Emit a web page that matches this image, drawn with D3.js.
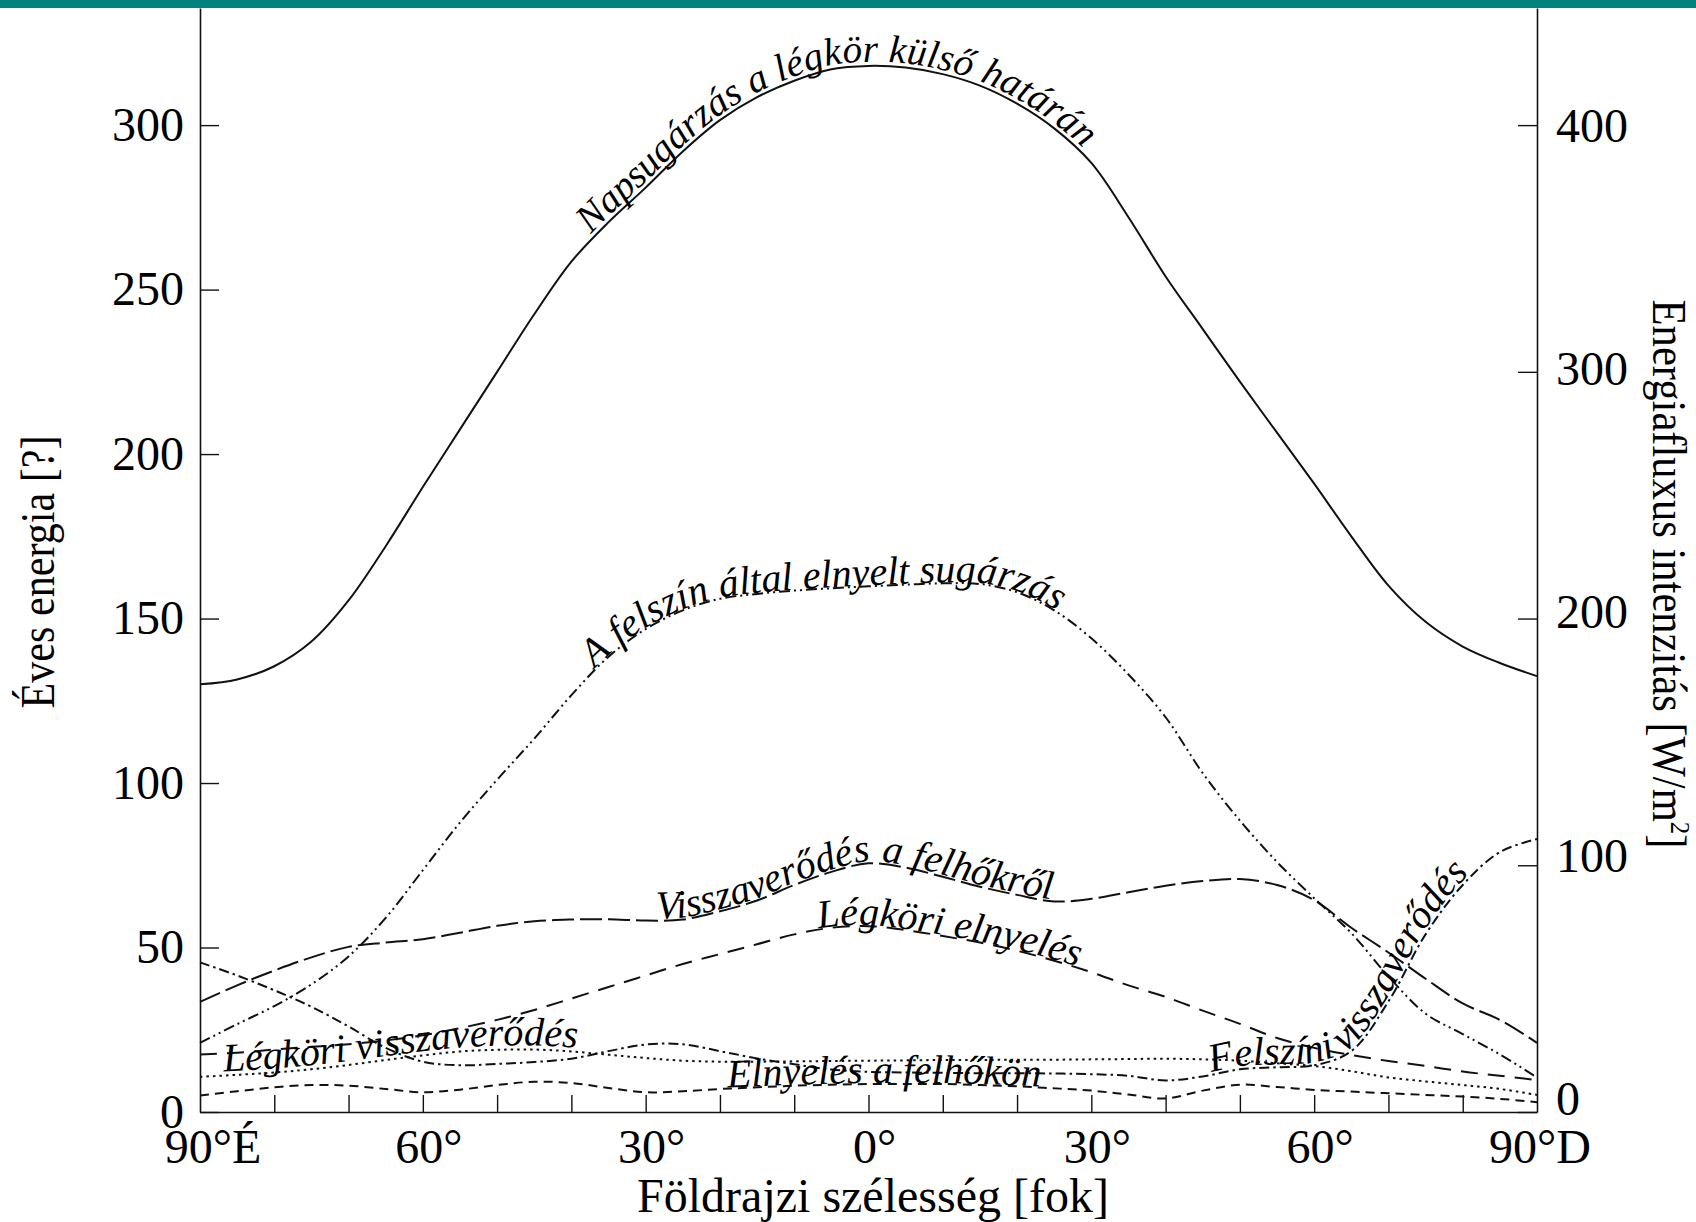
<!DOCTYPE html>
<html>
<head>
<meta charset="utf-8">
<script src="https://cdn.jsdelivr.net/npm/d3@7"></script>
<style>
  html, body { margin: 0; padding: 0; background: #fff; }
  svg { display: block; }
  text { font-family: "Liberation Serif", "Times New Roman", serif; fill: #000; }
</style>
</head>
<body>
<svg id="chart" width="1696" height="1222"></svg>
<script>
// Latitude grid (degrees, north positive) shared by every series
const latitudes = [90, 85, 80, 75, 70, 65, 60, 55, 50, 45, 40, 35, 30, 25, 20, 15, 10, 5, 0,
                   -5, -10, -15, -20, -25, -30, -35, -40, -45, -50, -55, -60, -65, -70, -75, -80, -85, -90];

// Annual energy per latitude band
const napsugarzas = [130, 131.5, 135.5, 143, 155.5, 172, 190, 207.5, 225, 242.5, 258.5, 270.5, 281, 292, 301.5, 308.5, 313.5, 317, 318,
                     317.5, 315.5, 312, 306.5, 299, 288.5, 272, 254, 238, 222, 206.5, 191, 175, 160, 149, 141.5, 136.5, 132.5];
const felszinElnyelt = [21, 26.7, 32.2, 38.8, 47.3, 59, 73.5, 88, 101, 113.5, 126.7, 138.4, 146.8, 152.5, 156, 157.5, 158.5, 159.2, 159.8,
                        160.3, 160.7, 160.5, 158, 152.5, 144, 133, 120, 103, 88.6, 76, 65, 54.4, 41.2, 29.9, 23.7, 17.5, 10.5];
const felhoVisszaverodes = [33.5, 38.5, 43, 47, 50.2, 51.5, 52.5, 54.5, 56.6, 58, 58.5, 58.6, 58.2, 58.5, 61, 64.3, 69, 73, 75.6,
                            74.3, 71.5, 68.5, 66, 64, 64.8, 66.8, 68.8, 70.2, 70.8, 69, 64.4, 56, 48.5, 40.5, 33, 28, 21];
const legkoriElnyeles = [17.5, 18, 19, 19.8, 20.6, 21.8, 23.3, 25.5, 28, 31, 34.5, 38, 41.5, 45, 48, 51, 54, 56, 56.5,
                         55.3, 53.5, 51.5, 49, 46, 42.5, 38.5, 35, 30.8, 26.8, 22.5, 19.5, 17.3, 15.5, 14, 12.3, 11, 9.7];
const legkoriVisszaverodes = [10.7, 11.3, 12, 13, 14.3, 15.8, 17.2, 18.4, 18.9, 19, 18.4, 17.4, 16.4, 15.6, 15.3, 15.3, 15.4, 15.5, 15.6,
                              15.7, 15.8, 15.8, 15.9, 15.9, 16, 16.1, 16.2, 16, 15.6, 14.8, 14, 12.4, 10.5, 9.3, 8.2, 7, 5.2];
const felszinVisszaverodes = [45.5, 41.5, 37, 32, 26, 19.5, 15.3, 14.2, 14.6, 15.2, 16.2, 18.5, 20.5, 20.6, 18.5, 16.3, 14.5, 12.9, 12.2,
                              12, 11.9, 11.8, 11.8, 11.7, 11.5, 11, 9.6, 10.8, 13, 13.6, 14.2, 18.5, 33.6, 54, 69, 79, 83];
const felhoElnyeles = [5, 6.3, 7.5, 8.2, 8, 7, 6, 6.8, 8.2, 9.2, 8.8, 7.3, 6, 6.3, 7, 7.5, 8, 8.3, 8.5,
                       8.5, 8.5, 8.2, 7.8, 7.2, 6.5, 5.3, 4.1, 6.5, 8.3, 7.6, 6.7, 6.2, 5.7, 5.2, 4.7, 4, 3];

// Axis ticks and labels
const leftTicks = [0, 50, 100, 150, 200, 250, 300];
const rightTicks = [0, 100, 200, 300, 400];
const latTicks = [80, 70, 60, 50, 40, 30, 20, 10, 0, -10, -20, -30, -40, -50, -60, -70, -80];
const latLabelValues = [90, 60, 30, 0, -30, -60, -90];
const latLabelTexts = ["90°É", "60°", "30°", "0°", "30°", "60°", "90°D"];

// Series table: data, line style and the label written along each curve
const series = [
  { id: "napsugarzas", values: napsugarzas, dash: null,
    label: "Napsugárzás a légkör külső határán", labelLat: 37, dy: -4, size: 39 },
  { id: "felszin-elnyelt", values: felszinElnyelt, dash: "11 4 2 4 2 4",
    label: "A felszín által elnyelt sugárzás", labelLat: 36.8, dy: -1 },
  { id: "felho-visszaverodes", values: felhoVisszaverodes, dash: "22 6",
    label: "Visszaverődés a felhőkről", labelLat: 28.6, dy: -2 },
  { id: "legkori-elnyeles", values: legkoriElnyeles, dash: "17 10",
    label: "Légköri elnyelés", labelLat: 6.7, dy: -1 },
  { id: "legkori-visszaverodes", values: legkoriVisszaverodes, dash: "2.5 4",
    label: "Légköri visszaverődés", labelLat: 86.8, dy: -4 },
  { id: "felszin-visszaverodes", values: felszinVisszaverodes, dash: "10 4 2.5 4",
    label: "Felszíni visszaverődés", labelLat: -46.2, dy: -3 },
  { id: "felho-elnyeles", values: felhoElnyeles, dash: "9 6",
    label: "Elnyelés a felhőkön", labelLat: 19, dy: -1 }
];

// ---- layout ----
const plot = { left: 200, right: 1537, top: 8, bottom: 1112 };
const energyMax = 335.6;              // value at the top of the left axis
const fluxPerEnergy = 4 / 3;          // right axis: W/m² per unit of annual energy

const svg = d3.select("#chart");

svg.append("rect").attr("x", 0).attr("y", 0).attr("width", 1696).attr("height", 8)
   .attr("fill", "#03817f");

const x = d3.scaleLinear().domain([90, -90]).range([plot.left, plot.right]);
const y = d3.scaleLinear().domain([0, energyMax]).range([plot.bottom, plot.top]);
const y2 = d3.scaleLinear().domain([0, energyMax * fluxPerEnergy]).range([plot.bottom, plot.top]);
// right-hand tick labels sit on a slightly tighter spacing than their ticks
const rightLabelY = d3.scaleLinear().domain([0, 400]).range([1099, 126]);

function styleAxis(g) {
  g.attr("font-family", null).attr("font-size", null);
  g.select(".domain").attr("stroke", "#111").attr("stroke-width", 1.6);
  g.selectAll(".tick line").attr("stroke", "#111").attr("stroke-width", 1.4);
  g.selectAll(".tick text").attr("font-size", 48).attr("fill", "#000");
}

// left axis
svg.append("g")
  .attr("transform", `translate(${plot.left},0)`)
  .call(d3.axisLeft(y).tickValues(leftTicks).tickSizeInner(-19).tickSizeOuter(0).tickPadding(16))
  .call(styleAxis);

// right axis
const gR = svg.append("g")
  .attr("transform", `translate(${plot.right},0)`)
  .call(d3.axisRight(y2).tickValues(rightTicks).tickSizeInner(-19).tickSizeOuter(0).tickPadding(19))
  .call(styleAxis);
gR.selectAll(".tick text").attr("y", d => rightLabelY(d) - y2(d));

// bottom axis
svg.append("g")
  .attr("transform", `translate(0,${plot.bottom})`)
  .call(d3.axisBottom(x).tickValues(latTicks).tickSizeInner(-17).tickSizeOuter(0).tickFormat(""))
  .call(styleAxis);

// latitude labels
const latLabelShift = { "90": 13, "-90": 3 };
svg.append("g").selectAll("text")
  .data(latLabelValues)
  .join("text")
  .attr("x", (d) => x(d) + (latLabelShift[String(d)] ?? 6))
  .attr("y", 1163)
  .attr("text-anchor", "middle")
  .attr("font-size", 48)
  .text((d, i) => latLabelTexts[i]);

// axis titles
svg.append("text")
  .attr("x", 873).attr("y", 1212)
  .attr("text-anchor", "middle")
  .attr("font-size", 48)
  .text("Földrajzi szélesség [fok]");

function condensedTitle(tx, ty, angle, target, build) {
  const g = svg.append("g");
  const t = g.append("text").attr("text-anchor", "middle").attr("font-size", 48);
  build(t);
  const len = t.node().getComputedTextLength();
  g.attr("transform", `translate(${tx},${ty}) rotate(${angle}) scale(${target / len},1)`);
}
condensedTitle(54, 572, -90, 273, t => t.text("Éves energia [?]"));
condensedTitle(1653, 574, 90, 549, t => {
  t.append("tspan").text("Energiafluxus intenzitás [W/m");
  t.append("tspan").attr("font-size", 28).attr("dy", -18).text("2");
  t.append("tspan").attr("dy", 18).text("]");
});

// curves
const line = d3.line()
  .x(d => x(d[0]))
  .y(d => y(d[1]))
  .curve(d3.curveCatmullRom.alpha(0.5));

const gLines = svg.append("g");
series.forEach(s => {
  const pts = latitudes.map((lat, i) => [lat, s.values[i]]);
  gLines.append("path")
    .attr("id", s.id)
    .attr("d", line(pts))
    .attr("fill", "none")
    .attr("stroke", "#111")
    .attr("stroke-width", 2)
    .attr("stroke-dasharray", s.dash);
});

// length along a left-to-right path where it reaches a given x
function lengthAtX(node, targetX) {
  let lo = 0, hi = node.getTotalLength();
  for (let i = 0; i < 40; i++) {
    const mid = (lo + hi) / 2;
    if (node.getPointAtLength(mid).x < targetX) lo = mid; else hi = mid;
  }
  return lo;
}

// curve labels written along their lines
const gLabels = svg.append("g");
series.forEach(s => {
  const node = document.getElementById(s.id);
  const offset = lengthAtX(node, x(s.labelLat));
  gLabels.append("text")
    .attr("font-size", s.size || 40)
    .attr("font-style", "italic")
    .attr("dy", s.dy)
    .append("textPath")
    .attr("href", "#" + s.id)
    .attr("startOffset", offset)
    .text(s.label);
});
</script>
</body>
</html>
